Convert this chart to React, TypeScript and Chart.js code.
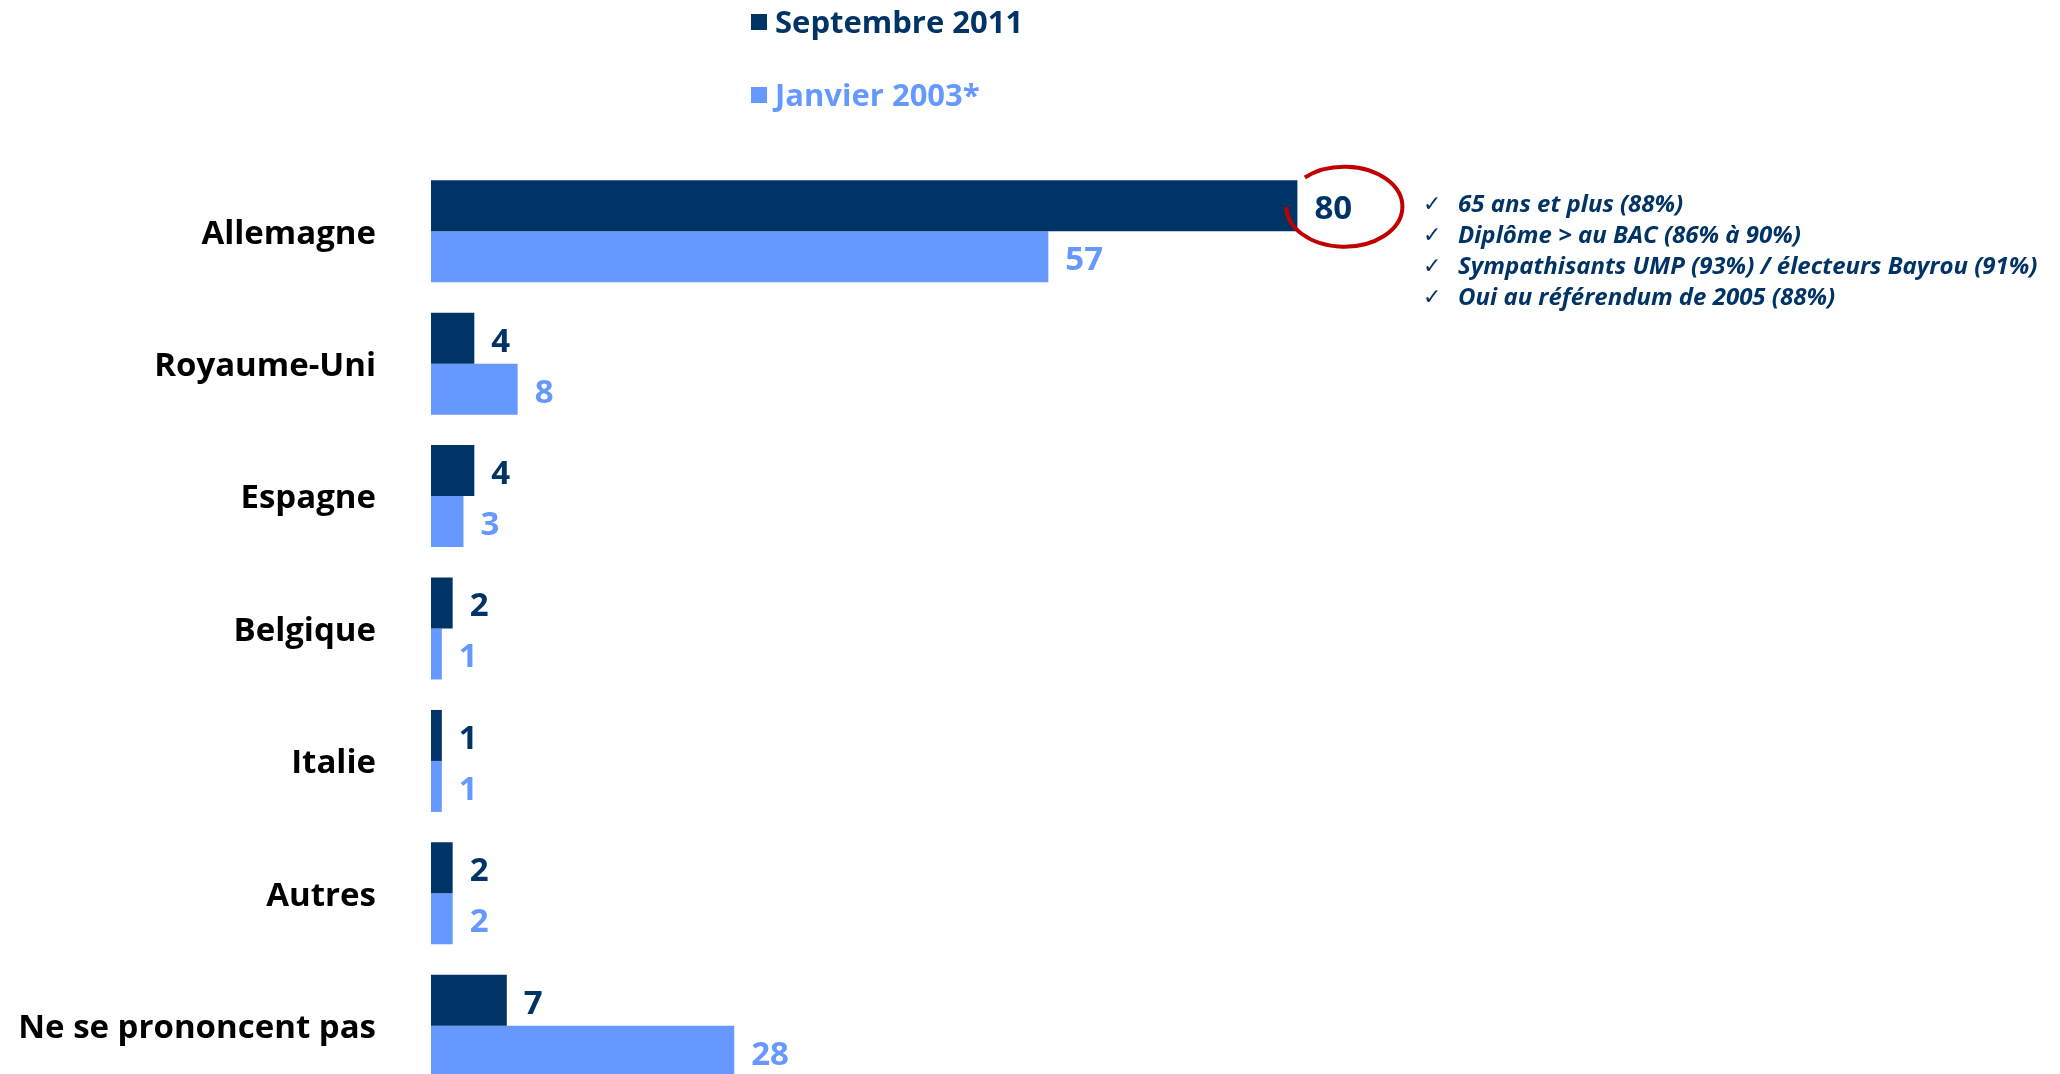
import React, { useEffect, useRef } from "react";
import { Chart, registerables } from "chart.js";

Chart.register(...registerables);

const categories = [
  "Allemagne",
  "Royaume-Uni",
  "Espagne",
  "Belgique",
  "Italie",
  "Autres",
  "Ne se prononcent pas",
];
const septembre2011 = [80, 4, 4, 2, 1, 2, 7];
const janvier2003 = [57, 8, 3, 1, 1, 2, 28];
const seriesLabels = ["Septembre 2011", "Janvier 2003*"];
const notes = [
  "65 ans et plus (88%)",
  "Diplôme > au BAC (86% à 90%)",
  "Sympathisants UMP (93%) / électeurs Bayrou (91%)",
  "Oui au référendum de 2005 (88%)",
];

const DARK = "#003366";
const LIGHT = "#6699FF";
const FONT = "'Open Sans', 'Noto Sans', sans-serif";

const overlayPlugin = {
  id: "overlay",
  afterDatasetsDraw(chart: any) {
    const ctx = chart.ctx as CanvasRenderingContext2D;
    ctx.save();
    // value labels
    chart.data.datasets.forEach((ds: any, di: number) => {
      const meta = chart.getDatasetMeta(di);
      meta.data.forEach((el: any, i: number) => {
        ctx.font = `bold 33px ${FONT}`;
        ctx.fillStyle = di === 0 ? DARK : LIGHT;
        ctx.textAlign = "left";
        ctx.textBaseline = "middle";
        ctx.fillText(String(ds.data[i]), el.x + 17, el.y + 4);
      });
    });
    // red circle around first value
    const first = chart.getDatasetMeta(0).data[0];
    if (first) {
      const cx = first.x + 47;
      const cy = first.y + 1;
      ctx.beginPath();
      ctx.strokeStyle = "#C00000";
      ctx.lineWidth = 4;
      ctx.ellipse(cx, cy, 58, 40, 0, (227 * Math.PI) / 180, 3 * Math.PI);
      ctx.stroke();
    }
    // legend
    const legendRows = [
      { label: seriesLabels[0], color: DARK, y: 22 },
      { label: seriesLabels[1], color: LIGHT, y: 95 },
    ];
    legendRows.forEach((r) => {
      ctx.fillStyle = r.color;
      ctx.fillRect(751, r.y - 8, 16, 16);
      ctx.font = `bold 31px ${FONT}`;
      ctx.textAlign = "left";
      ctx.textBaseline = "middle";
      ctx.fillText(r.label, 775, r.y + 2);
    });
    // notes
    notes.forEach((n, i) => {
      const y = 205 + i * 31;
      ctx.fillStyle = DARK;
      ctx.textBaseline = "middle";
      ctx.textAlign = "left";
      ctx.font = `22px 'DejaVu Sans', sans-serif`;
      ctx.fillText("\u2713", 1423, y);
      ctx.font = `italic bold 24px ${FONT}`;
      ctx.fillText(n, 1458, y);
    });
    ctx.restore();
  },
};

export default function App() {
  const ref = useRef<HTMLCanvasElement | null>(null);
  useEffect(() => {
    if (!ref.current) return;
    const chart = new Chart(ref.current, {
      type: "bar",
      data: {
        labels: categories,
        datasets: [
          {
            label: seriesLabels[0],
            data: septembre2011,
            backgroundColor: DARK,
            borderWidth: 0,
            categoryPercentage: 0.77,
            barPercentage: 1,
          },
          {
            label: seriesLabels[1],
            data: janvier2003,
            backgroundColor: LIGHT,
            borderWidth: 0,
            categoryPercentage: 0.77,
            barPercentage: 1,
          },
        ],
      },
      options: {
        indexAxis: "y",
        animation: false,
        responsive: false,
        maintainAspectRatio: false,
        devicePixelRatio: 1,
        layout: { padding: { top: 165, bottom: 8, right: 546, left: 0 } },
        plugins: {
          legend: { display: false },
          tooltip: { enabled: false },
        },
        scales: {
          x: { display: false, min: 0, max: 100 },
          y: {
            grid: { display: false, drawTicks: false },
            border: { display: false },
            ticks: {
              padding: 55,
              labelOffset: 3,
              color: "#000000",
              font: { family: FONT, size: 33, weight: "bold" },
            },
            afterFit: (s: any) => {
              s.width = 431;
              s.paddingTop = 0;
              s.paddingBottom = 0;
            },
          },
        },
      },
      plugins: [overlayPlugin],
    });
    return () => chart.destroy();
  }, []);
  return (
    <div
      style={{
        position: "fixed",
        left: 0,
        top: 0,
        width: 2060,
        height: 1074,
        overflow: "hidden",
        background: "#ffffff",
      }}
    >
      <canvas
        ref={ref}
        width={2060}
        height={1100}
        style={{ display: "block", width: 2060, height: 1100 }}
      />
    </div>
  );
}
